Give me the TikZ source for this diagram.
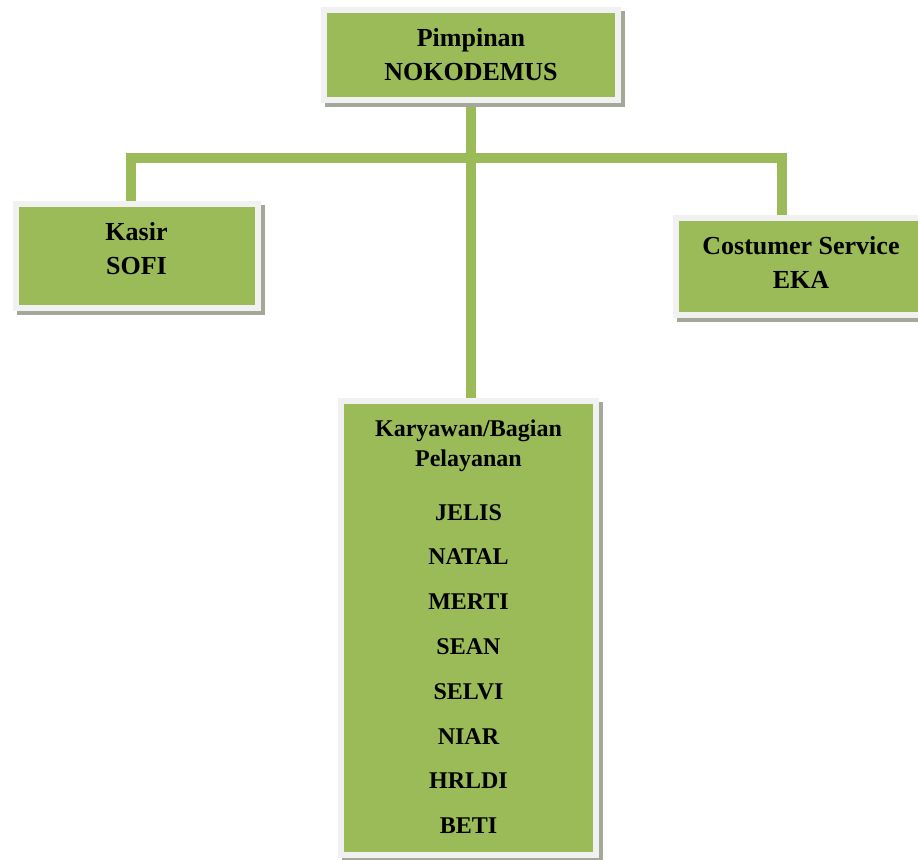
\documentclass[tikz,border=0pt]{standalone}
\usepackage{fontspec}
\setmainfont{Liberation Serif}
\usetikzlibrary{calc,shadows,backgrounds}
\definecolor{boxgreen}{RGB}{155,187,89}
\definecolor{boxrim}{RGB}{241,241,241}
\definecolor{rimshadow}{RGB}{163,168,152}

\tikzset{
  orgbox/.style={draw=boxrim, line width=3pt, fill=boxgreen, inner sep=0pt, outer sep=0pt,
    drop shadow={shadow xshift=2pt, shadow yshift=-2pt, fill=rimshadow,
      draw=rimshadow, line width=3pt, opacity=1}},
  boxtext/.style={anchor=north, inner sep=0pt, align=center, yshift=-9pt,
    font=\fontsize{13}{17}\selectfont\bfseries},
  nametext/.style={anchor=base, inner sep=0pt, font=\fontsize{12}{15}\selectfont\bfseries},
  link/.style={draw=boxgreen, line width=5pt}
}

\begin{document}
\begin{tikzpicture}[x=0.5pt, y=-0.5pt]
    \useasboundingbox (0,0) rectangle (918,859); % keeps the page size

    % boxes
    \node[orgbox, minimum width=147pt, minimum height=45pt] (lead) at (471,55) {};
    \node[orgbox, minimum width=121pt, minimum height=51.75pt] (kasir) at (136.5,256) {};
    \node[orgbox, minimum width=125pt, minimum height=48.5pt] (cs) at (801,266.5) {};
    \node[orgbox, minimum width=127.5pt, minimum height=227pt] (staff) at (468.5,628) {};

    % texts in the boxes
    \node[boxtext] (leadtext) at (lead.north) {Pimpinan\\NOKODEMUS};
    \node[boxtext] (kasirtext) at (kasir.north) {Kasir\\SOFI};
    \node[boxtext] (cstext) at (cs.north) {Costumer Service\\EKA};
    \node[boxtext, font=\fontsize{12}{15}\selectfont\bfseries] (stafftext) at (staff.north)
      {Karyawan/Bagian\\Pelayanan};
    \foreach \name [count=\i] in {JELIS,NATAL,MERTI,SEAN,SELVI,NIAR,HRLDI,BETI}{% one line per name
      \node[nametext] (name\i) at ($(staff.north)+(0,{119+44.8*(\i-1)})$) {\name};
    }

    % connectors, behind the boxes
    \begin{scope}[on background layer]
      \coordinate (busL) at (131,157.5);
      \coordinate (busR) at (782,157.5);
      \draw[link] (lead.south) -- (lead.south |- staff.north);
      \draw[link] (kasir.north -| busL) -- (busL) -- (busR) -- (cs.north -| busR);
    \end{scope}
\end{tikzpicture}
\end{document}
